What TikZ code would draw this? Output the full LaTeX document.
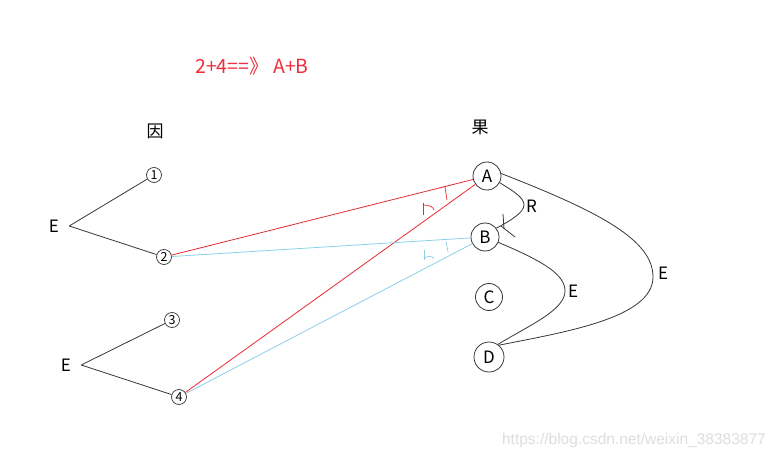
\documentclass[tikz,border=0pt]{standalone}
\usepackage{fontspec}
\setmainfont{Noto Sans CJK SC}
\newfontfamily\wmfont{Liberation Sans}
\definecolor{tred}{RGB}{240,45,60}
\definecolor{lred}{RGB}{235,40,50}
\definecolor{lblue}{RGB}{140,208,232}
\definecolor{lgray}{RGB}{55,55,55}
\definecolor{wm}{RGB}{222,222,222}
\begin{document}
\begin{tikzpicture}[x=1pt,y=-1pt,
  lbl/.style={font=\fontsize{17}{19}\selectfont, inner sep=0pt},
  small/.style={circle, draw=lgray, line width=0.7pt, minimum size=15pt, inner sep=0pt, font=\fontsize{12.5}{13}\selectfont},
  big/.style={circle, draw=lgray, line width=0.8pt, minimum size=28pt, inner sep=0pt, font=\fontsize{17}{19}\selectfont},
  blk/.style={draw=lgray, line width=0.8pt},
  rl/.style={draw=lred, line width=0.8pt},
  bl/.style={draw=lblue, line width=0.8pt}]
\useasboundingbox (0,0) rectangle (776,457);
\fill[white] (0,0) rectangle (776,457);
% title
\node[text=tred, font=\fontsize{19.5}{21}\selectfont, inner sep=0pt] (title) at (252,66) {2+4==》 A+B};
\node[lbl] (yin) at (155,131) {因};
\node[lbl] (guo) at (480,127) {果};
% left side
\node[lbl] (E1) at (54,226) {E};
\node[lbl] (E2) at (66,365) {E};
\node[small] (n1) at (154,175) {1};
\node[small] (n2) at (164,257) {2};
\node[small] (n3) at (172,320) {3};
\node[small] (n4) at (179,397) {4};
% right side
\node[big] (A) at (487,176) {A};
\node[big] (B) at (485,237) {B};
\node[big, minimum size=27pt] (C) at (489,297) {C};
\node[big, minimum size=30pt] (D) at (489,357) {D};
% black connectors
\draw[blk] ([xshift=10pt]E1.east) -- (n1);
\draw[blk] ([xshift=10pt]E1.east) -- (n2);
\draw[blk] ([xshift=10pt]E2.east) -- (n3);
\draw[blk] ([xshift=10pt]E2.east) -- (n4);
% red / blue connectors
\draw[rl] (n2) -- (A);
\draw[rl] (n4) -- (A);
\draw[bl] (n2) -- (B);
\draw[bl] (n4) -- (B);
% angle marks
\draw[lred, line width=0.7pt] (445,187) -- (447,200);
\draw[lred, line width=0.7pt] (423,203) -- (423,215);
\draw[lred, line width=0.7pt] (423,205) .. controls (430,205) and (433,207) .. (434,210);
\draw[lblue, line width=0.7pt] (446,241) -- (448,252);
\draw[lblue, line width=0.7pt] (424,250) -- (424,260);
\draw[lblue, line width=0.7pt] (424,258) .. controls (428,256) and (431,256) .. (434,258);
% R curve
\draw[blk] (A.-28) .. controls (515,192) and (524,198) .. (524,205)
  .. controls (524,212) and (512,220) .. (B.38);
\node[lbl, anchor=west] (R) at (526,206) {R};
\draw[blk] (503,214) -- (504,229);
\draw[blk] (501,226) -- (515,237);
% E curves
\draw[blk] (B.-22) .. controls (545,262) and (565,275) .. (565,291)
  .. controls (565,310) and (530,325) .. (D.55);
\node[lbl, anchor=west] (E3) at (568,291) {E};
\draw[blk] (A.10) .. controls (600,212) and (653,240) .. (653,277)
  .. controls (653,318) and (565,332) .. (D.50);
\node[lbl, anchor=west] (E4) at (658,273) {E};
% watermark
\node[text=wm, font=\wmfont\fontsize{15.5}{17}\selectfont, inner sep=0pt, anchor=east] (wmk) at (766,440) {https://blog.csdn.net/weixin\_38383877};
\end{tikzpicture}
\end{document}
